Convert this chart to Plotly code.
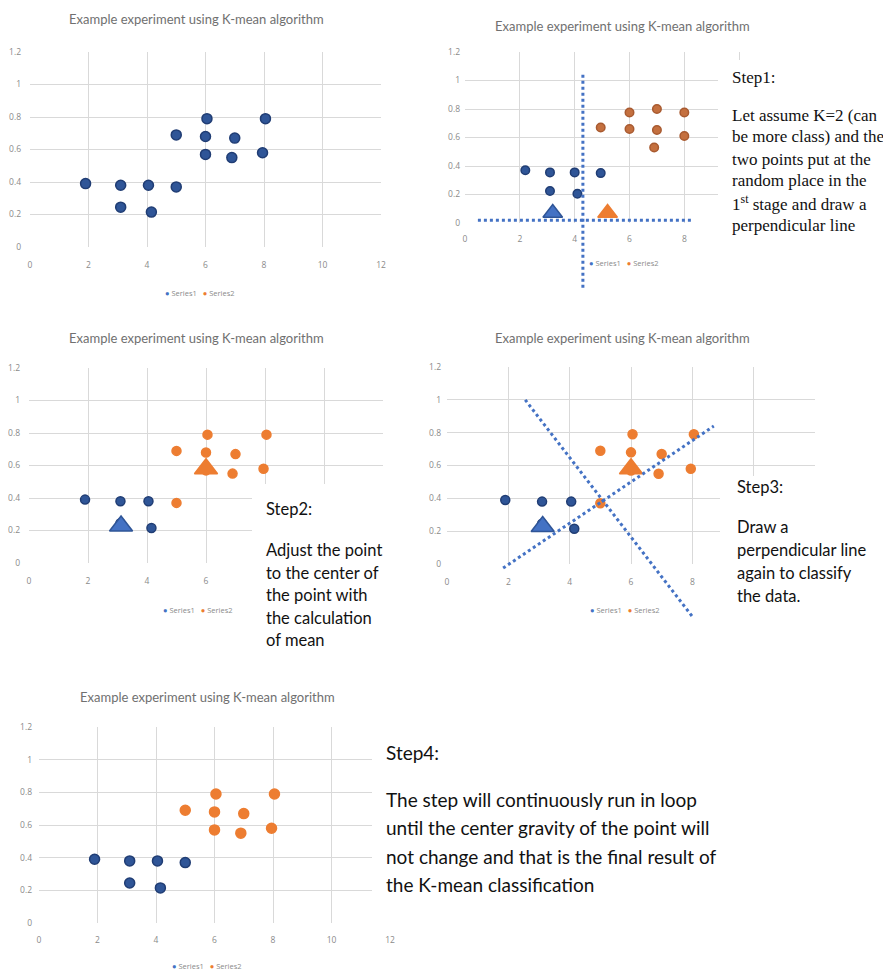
import plotly.graph_objects as go

W, H = 891, 971
OFF = 8  # page body margin of the browser

# ---------------- data ----------------
TITLE = "Example experiment using K-mean algorithm"
x_ticks = [0, 2, 4, 6, 8, 10, 12]
y_ticks = [0, 0.2, 0.4, 0.6, 0.8, 1, 1.2]
series_names = ["Series1", "Series2"]

# raw data (panels 1, 3, 4, 5)
points_x = [1.9, 3.1, 4.05, 5.0, 3.1, 4.15, 5.0, 6.05, 6.0, 7.0, 8.05, 6.0, 6.9, 7.95]
points_y = [0.39, 0.38, 0.38, 0.37, 0.245, 0.215, 0.69, 0.79, 0.68, 0.67, 0.79, 0.57, 0.55, 0.58]
step2_cluster = [1, 1, 1, 2, 1, 1, 2, 2, 2, 2, 2, 2, 2, 2]
final_cluster = [1, 1, 1, 1, 1, 1, 2, 2, 2, 2, 2, 2, 2, 2]

# step 1 panel
s1_blue_x = [2.2, 3.1, 4.0, 4.95, 3.1, 4.1]
s1_blue_y = [0.37, 0.355, 0.355, 0.35, 0.225, 0.205]
s1_orange_x = [4.95, 6.0, 7.0, 8.0, 6.0, 7.0, 8.0, 6.9]
s1_orange_y = [0.67, 0.775, 0.80, 0.775, 0.66, 0.653, 0.61, 0.53]
s1_centroid_x = [3.2, 5.2]
s1_centroid_y = [0.07, 0.07]
s1_vline_x = [4.3, 4.3]
s1_vline_y = [1.04, -0.46]
s1_hline_x = [0.47, 8.25]
s1_hline_y = [0.02, 0.02]

# step 2 / step 3 centroids
s2_centroid_x = [3.12, 6.0]
s2_centroid_y = [0.228, 0.58]

# step 3 separating lines
s3_lineA_x = [1.83, 8.7]
s3_lineA_y = [-0.025, 0.84]
s3_lineB_x = [2.55, 8.0]
s3_lineB_y = [1.0, -0.32]

step1_head = "Step1:"
step1_lines = ["Let assume K=2 (can", "be more class) and the", "two points put at the",
               "random place in the", "1<sup>st</sup> stage and draw a", "perpendicular line"]
step2_head = "Step2:"
step2_lines = ["Adjust the point", "to the center of", "the point with", "the calculation", "of mean"]
step3_head = "Step3:"
step3_lines = ["Draw a", "perpendicular line", "again to classify", "the data."]
step4_head = "Step4:"
step4_lines = ["The step will continuously run in loop", "until the center gravity of the point will",
               "not change and that is the final result of", "the K-mean classification"]

# ---------------- style ----------------
DARK_BLUE = "#2F5597"
DARK_BLUE_EDGE = "#203D74"
BLUE = "#4472C4"
ORANGE = "#ED7D31"
BROWN = "#C4703F"
BROWN_EDGE = "#A85A30"
GRID = "#D9D9D9"
TICK = "#8A8A8A"
TITLE_C = "#707070"

XR = [0, 12]
YR = [0, 1.2]

# pixel boxes of each plotting area: (left, right), (top, bottom)
boxes = {
    1: ((30, 381), (52, 247)),
    2: ((465, 794), (52, 223)),
    3: ((29, 383), (368, 563)),
    4: ((447, 815), (367, 564)),
    5: ((39, 390), (727, 923)),
}
# x tick labels visible in each panel (others hidden behind text boxes)
x_labels_shown = {1: x_ticks, 2: [0, 2, 4, 6, 8], 3: [0, 2, 4, 6], 4: [0, 2, 4, 6, 8], 5: x_ticks}
standoff = {1: (11, 8), 2: (9, 4), 3: (11, 8), 4: (11, 5), 5: (10, 6)}


def px(p):
    return (p - OFF) / W


def py(p):
    return 1 - (p - OFF) / H


fig = go.Figure()

for k, ((l, r), (t, b)) in boxes.items():
    sx = "" if k == 1 else str(k)
    xs, ys = standoff[k]
    shown = x_labels_shown[k]
    hidden = [v for v in x_ticks if v not in shown]
    fig.update_layout(**{
        "xaxis" + sx: dict(domain=[px(l), px(r)], range=XR, tickvals=shown, anchor="y" + sx,
                           showgrid=True, gridcolor=GRID, gridwidth=1, zeroline=False, showline=False,
                           minor=dict(tickvals=hidden, showgrid=True, gridcolor=GRID, gridwidth=1),
                           tickfont=dict(size=8.5, color=TICK, family="Open Sans"), ticklabelstandoff=xs,
                           fixedrange=True),
        "yaxis" + sx: dict(domain=[py(b), py(t)], range=YR, tickvals=y_ticks, anchor="x" + sx,
                           showgrid=True, gridcolor=GRID, gridwidth=1, zeroline=False, showline=False,
                           tickfont=dict(size=8.5, color=TICK, family="Open Sans"), ticklabelstandoff=ys,
                           fixedrange=True),
    })


def dots(k, xs, ys, color, edge, size, name):
    sx = "" if k == 1 else str(k)
    fig.add_trace(go.Scatter(x=xs, y=ys, mode="markers", xaxis="x" + sx, yaxis="y" + sx, name=name,
                             marker=dict(size=size, color=color, line=dict(color=edge, width=1.5)),
                             showlegend=False, hoverinfo="skip"))


def tri(k, xs, ys, colors, edges, size):
    sx = "" if k == 1 else str(k)
    fig.add_trace(go.Scatter(x=xs, y=ys, mode="markers", xaxis="x" + sx, yaxis="y" + sx,
                             marker=dict(symbol="triangle-up", size=size, color=colors,
                                         line=dict(color=edges, width=1.5)),
                             showlegend=False, hoverinfo="skip"))


def split(cluster, c):
    return ([x for x, g in zip(points_x, cluster) if g == c],
            [y for y, g in zip(points_y, cluster) if g == c])


# panel 1: all points as one series
dots(1, points_x, points_y, DARK_BLUE, DARK_BLUE_EDGE, 10, series_names[0])

# panel 2: step 1
dots(2, s1_blue_x, s1_blue_y, DARK_BLUE, DARK_BLUE_EDGE, 8.5, series_names[0])
dots(2, s1_orange_x, s1_orange_y, BROWN, BROWN_EDGE, 8.5, series_names[1])
tri(2, s1_centroid_x, s1_centroid_y, [BLUE, ORANGE], [DARK_BLUE, ORANGE], 17)

# panels 3 and 4: step 2 classification with moved centroids
for k in (3, 4):
    bx, by = split(step2_cluster, 1)
    ox, oy = split(step2_cluster, 2)
    dots(k, bx, by, DARK_BLUE, DARK_BLUE_EDGE, 9, series_names[0])
    dots(k, ox, oy, ORANGE, ORANGE, 9, series_names[1])
    tri(k, s2_centroid_x, s2_centroid_y, [BLUE, ORANGE], [DARK_BLUE, ORANGE], 20)

# panel 5: final result
bx, by = split(final_cluster, 1)
ox, oy = split(final_cluster, 2)
dots(5, bx, by, DARK_BLUE, DARK_BLUE_EDGE, 10, series_names[0])
dots(5, ox, oy, ORANGE, ORANGE, 10, series_names[1])


def dom(v, rng):
    return (v - rng[0]) / (rng[1] - rng[0])


def dotted(k, xs, ys):
    sx = "" if k == 1 else str(k)
    fig.add_shape(type="line", xref="x" + sx + " domain", yref="y" + sx + " domain",
                  x0=dom(xs[0], XR), x1=dom(xs[1], XR), y0=dom(ys[0], YR), y1=dom(ys[1], YR),
                  line=dict(color=BLUE, width=3, dash="dot"), layer="above")


# white text boxes covering part of the grids
for (x0, y0, x1, y1) in [(718, 60, 900, 300), (252, 484, 420, 660), (720, 476, 900, 660), (372, 735, 900, 917)]:
    fig.add_shape(type="rect", xref="paper", yref="paper", x0=px(x0), x1=px(x1), y0=py(y1), y1=py(y0),
                  fillcolor="white", line=dict(width=0), layer="above")

dotted(2, s1_vline_x, s1_vline_y)
dotted(2, s1_hline_x, s1_hline_y)
dotted(4, s3_lineA_x, s3_lineA_y)
dotted(4, s3_lineB_x, s3_lineB_y)

# legends (compact, one per panel)
legend_text = ("<span style='color:%s'>●</span> %s   <span style='color:%s'>●</span> %s"
               % (BLUE, series_names[0], ORANGE, series_names[1]))
for (lx, ly) in [(200, 293), (624, 263), (198, 610), (625, 610), (207, 966)]:
    fig.add_annotation(text=legend_text, x=px(lx), y=py(ly), xref="paper", yref="paper", showarrow=False,
                       xanchor="center", yanchor="middle",
                       font=dict(size=7.5, color=TICK, family="Open Sans"))

# titles
for (cx, cy) in [(196, 19), (622, 26), (196, 338), (622, 338), (207, 697)]:
    fig.add_annotation(text=TITLE, x=px(cx), y=py(cy), xref="paper", yref="paper", showarrow=False,
                       xanchor="center", yanchor="middle",
                       font=dict(size=13, color=TITLE_C, family="Lato"))


def text_block(head, lines, x, y_head, y_first, gap, size, family):
    fig.add_annotation(text=head, x=px(x), y=py(y_head), xref="paper", yref="paper", showarrow=False,
                       xanchor="left", yanchor="middle",
                       font=dict(size=size, color="#111111", family=family))
    for i, ln in enumerate(lines):
        fig.add_annotation(text=ln, x=px(x), y=py(y_first + i * gap), xref="paper", yref="paper",
                           showarrow=False, xanchor="left", yanchor="middle",
                           font=dict(size=size, color="#111111", family=family))


text_block(step1_head, step1_lines, 730, 77, 115, 22, 17, "Liberation Serif")
text_block(step2_head, step2_lines, 264, 509, 550, 22.5, 16.5, "Lato")
text_block(step3_head, step3_lines, 735, 487, 527, 23, 16.5, "Lato")
text_block(step4_head, step4_lines, 384, 752, 799, 28.5, 19, "Lato")

fig.update_layout(width=W, height=H, margin=dict(l=0, r=0, t=0, b=0, autoexpand=False),
                  paper_bgcolor="white", plot_bgcolor="white", showlegend=False)

fig.write_html("out.html")
